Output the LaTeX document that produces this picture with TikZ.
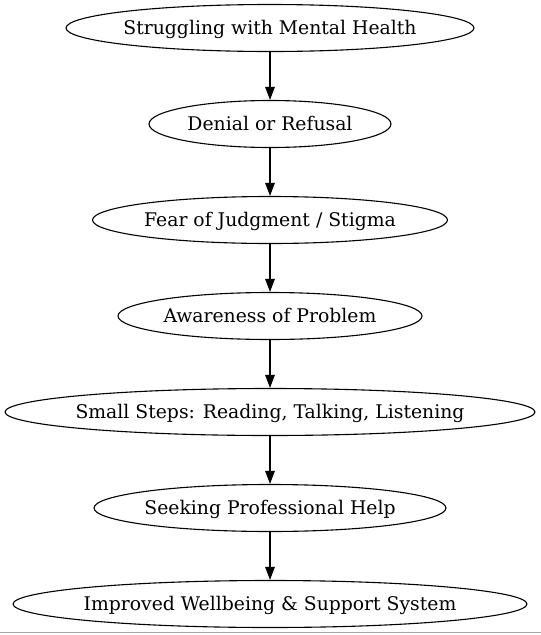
\documentclass[tikz,border=0pt]{standalone}
\usepackage{fontspec}
\setmainfont{DejaVu Serif}
\usetikzlibrary{shapes.geometric,arrows.meta}
\begin{document}
\begin{tikzpicture}[x=1pt,y=-1pt,
  st/.style={ellipse,draw,line width=1.1pt,inner sep=0pt,minimum height=47pt,label={[font=\fontsize{18.8}{20}\selectfont,inner sep=0pt,text height=14pt,text depth=4pt,yshift=-1pt]center:#1}},
  ar/.style={line width=1.1pt,-{Triangle[length=13pt,width=9.5pt]}}]
\useasboundingbox (0,0) rectangle (541,635);
\node[st={Struggling with Mental Health},minimum width=408pt] (a) at (270,28) {};
\node[st={Denial or Refusal},minimum width=242pt] (b) at (270,124) {};
\node[st={Fear of Judgment / Stigma},minimum width=355pt] (c) at (270,220) {};
\node[st={Awareness of Problem},minimum width=304pt] (d) at (270,316) {};
\node[st={Small Steps: Reading, Talking, Listening},minimum width=530pt] (e) at (270,412) {};
\node[st={Seeking Professional Help},minimum width=352pt] (f) at (270,508) {};
\node[st={Improved Wellbeing \& Support System},minimum width=514pt] (g) at (270,604) {};
\draw[ar] (a) -- (b);
\draw[ar] (b) -- (c);
\draw[ar] (c) -- (d);
\draw[ar] (d) -- (e);
\draw[ar] (e) -- (f);
\draw[ar] (f) -- (g);
\draw[gray!70,line width=1.5pt] (0,632.5) -- (541,632.5);
\end{tikzpicture}
\end{document}
